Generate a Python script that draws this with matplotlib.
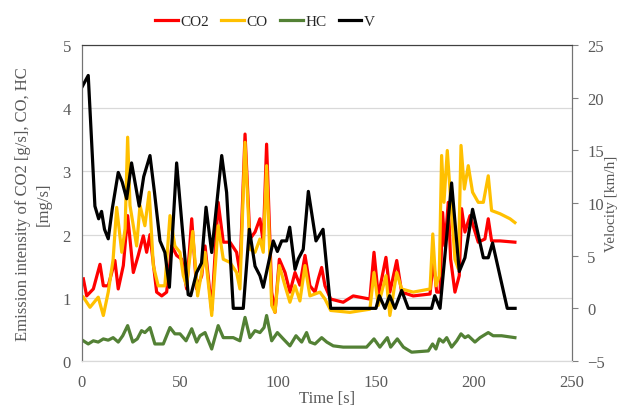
import matplotlib
matplotlib.use("Agg")
import matplotlib.pyplot as plt
import numpy as np

# emission readings (left axis)
t_co2 = [0.7, 2.4, 5.8, 9.2, 10.9, 13.4, 15.2, 16.8, 18.5, 21.1, 23.3, 26.2, 28.7, 31.3, 33.0, 34.7,
         38.1, 40.7, 43.2, 45.8, 48.3, 50.9, 53.4, 56.0, 58.5, 61.1, 62.8, 66.2, 69.5, 72.1, 75.5,
         78.9, 80.6, 83.2, 85.7, 88.3, 90.8, 92.5, 94.2, 96.8, 98.5, 100.7, 103.6, 106.1, 108.7,
         111.2, 113.8, 116.3, 118.9, 120.6, 122.3, 124.0, 126.9, 133.3, 138.4, 146.9, 149.0, 151.2,
         155.1, 157.1, 160.6, 163.1, 169.0, 177.6, 179.2, 181.0, 182.7, 184.0, 185.2, 186.9, 188.1,
         190.3, 192.5, 193.7, 195.4, 198.0, 202.2, 205.6, 207.3, 209.0, 213.3, 220.9]
co2 = [1.30, 1.03, 1.14, 1.53, 1.19, 1.19, 1.40, 1.59, 1.14, 1.51, 2.30, 1.40, 1.67, 1.98, 1.72, 2.00,
       1.09, 1.03, 1.09, 1.82, 1.67, 1.61, 1.14, 2.25, 1.14, 1.35, 1.82, 0.80, 2.51, 1.88, 1.88,
       1.72, 1.40, 3.59, 1.93, 2.04, 2.25, 1.88, 3.43, 1.09, 0.77, 1.61, 1.40, 1.09, 1.40,
       1.20, 1.67, 1.19, 1.09, 1.30, 1.48, 1.19, 0.98, 0.93, 1.03, 0.98, 1.72, 1.03,
       1.64, 1.09, 1.59, 1.09, 1.03, 1.06, 1.61, 1.09, 1.09, 2.35, 1.82, 2.51, 1.61,
       1.09, 1.35, 2.41, 2.04, 2.30, 1.88, 1.93, 2.25, 1.90, 1.90, 1.88]

t_co = [0.7, 4.1, 8.3, 10.9, 13.4, 15.9, 17.7, 20.3, 22.0, 23.3, 24.5, 26.2, 27.9, 29.6, 32.1, 34.3,
        36.4, 38.9, 42.3, 44.9, 47.4, 50.0, 51.7, 53.4, 56.5, 59.0, 62.8, 66.2, 69.5, 72.1, 75.5,
        78.9, 80.6, 83.2, 85.7, 88.3, 90.8, 92.5, 94.2, 96.8, 98.5, 100.7, 103.6, 106.1, 108.7,
        111.2, 113.8, 116.3, 121.4, 124.0, 126.9, 136.7, 146.9, 149.0, 151.2, 155.1, 157.1, 160.6,
        163.1, 169.0, 177.6, 179.0, 180.6, 182.3, 183.5, 184.7, 186.4, 188.1, 190.3, 192.0, 193.4,
        195.1, 197.1, 199.3, 202.2, 204.8, 207.3, 209.0, 213.3, 218.4, 220.9]
co = [1.01, 0.85, 1.01, 0.72, 1.09, 1.61, 2.43, 1.72, 2.09, 3.54, 2.46, 2.14, 1.82, 2.46, 2.14, 2.67,
      1.51, 1.19, 1.19, 2.30, 1.82, 1.72, 1.35, 1.19, 2.05, 1.03, 1.72, 0.72, 2.14, 1.61, 1.56,
      1.40, 1.14, 3.46, 1.77, 1.72, 1.93, 1.72, 3.09, 0.88, 0.77, 1.51, 1.19, 0.93, 1.19,
      0.95, 1.51, 1.03, 1.09, 0.98, 0.80, 0.77, 0.82, 1.40, 0.88, 1.35, 0.72, 1.40,
      1.14, 1.09, 1.14, 2.01, 1.19, 1.35, 3.25, 2.51, 3.33, 2.56, 1.61, 1.46, 3.41,
      2.72, 3.09, 2.67, 2.51, 2.51, 2.93, 2.38, 2.33, 2.25, 2.19]

t_hc = [0.7, 3.2, 5.8, 8.3, 10.9, 13.4, 15.9, 18.5, 20.8, 23.3, 25.9, 28.2, 30.4, 32.1, 34.7, 37.2,
        41.5, 44.9, 47.4, 50.0, 53.1, 56.0, 58.5, 60.2, 62.8, 66.2, 69.5, 72.1, 77.2, 80.6, 83.2,
        85.7, 88.3, 90.8, 92.9, 94.2, 96.8, 99.7, 102.7, 106.1, 109.2, 112.1, 114.6, 116.3, 118.9,
        122.3, 124.9, 128.2, 133.3, 145.2, 149.0, 152.0, 155.8, 157.5, 160.9, 164.0, 168.2, 176.7,
        178.9, 180.6, 182.3, 184.3, 186.1, 188.6, 191.2, 193.4, 195.4, 197.1, 200.5, 203.1, 207.3,
        209.8, 214.1, 220.9]
hc = [0.32, 0.27, 0.32, 0.30, 0.35, 0.33, 0.37, 0.30, 0.40, 0.56, 0.30, 0.35, 0.48, 0.45, 0.53, 0.27,
      0.27, 0.53, 0.43, 0.43, 0.32, 0.51, 0.30, 0.40, 0.45, 0.19, 0.56, 0.37, 0.37, 0.32, 0.69,
      0.37, 0.48, 0.45, 0.53, 0.72, 0.32, 0.45, 0.35, 0.24, 0.40, 0.30, 0.45, 0.30, 0.27,
      0.37, 0.30, 0.24, 0.22, 0.22, 0.35, 0.22, 0.37, 0.22, 0.35, 0.22, 0.14, 0.16,
      0.27, 0.19, 0.35, 0.30, 0.37, 0.22, 0.32, 0.43, 0.37, 0.40, 0.30, 0.37, 0.45,
      0.40, 0.40, 0.37]

# velocity (right axis)
t_v = [0, 3.2, 6.6, 8.5, 10.0, 11.5, 13.4, 15.5, 18.5, 20.5, 22.8, 25.3, 27.5, 29.2, 31.5, 34.7, 37.0,
       39.8, 42.3, 44.6, 48.3, 51.0, 54.2, 55.5, 58.5, 61.0, 63.3, 66.2, 71.3, 73.8, 77.2, 82.3,
       85.4, 88.3, 90.8, 92.5, 97.6, 99.7, 101.9, 104.4, 106.0, 108.7, 110.4, 112.9, 115.5, 119.4,
       123.0, 126.9, 150.0, 151.7, 154.6, 157.0, 159.7, 163.1, 166.5, 178.4, 180.0, 182.7, 188.6,
       192.5, 195.4, 199.3, 204.8, 207.3, 209.5, 217.0, 221.0]
v = [21.0, 22.1, 9.7, 8.5, 9.2, 7.5, 6.6, 9.5, 12.9, 12.0, 10.4, 13.8, 11.5, 9.7, 12.5, 14.5, 11.0,
     6.4, 5.3, 2.0, 13.8, 8.0, 1.3, 1.2, 3.4, 4.3, 9.6, 5.3, 14.5, 11.0, 0.0, 0.0,
     7.5, 4.0, 3.1, 2.0, 6.4, 5.4, 6.4, 6.4, 7.7, 3.7, 4.7, 5.6, 11.1, 6.4,
     7.5, 0.0, 0.0, 1.2, 0.0, 1.2, 0.0, 1.7, 0.0, 0.0, 1.2, 0.0, 11.9,
     3.5, 4.8, 9.4, 4.8, 4.8, 6.2, 0.0, 0.0]

plt.rcParams['font.family'] = ['Liberation Serif', 'DejaVu Serif']
grey = '#595959'

fig = plt.figure(figsize=(6.21, 4.10), dpi=100)
ax = fig.add_axes([0.132, 0.117, 0.789, 0.771])
ax2 = ax.twinx()

lw = 2.3
l1, = ax.plot(t_co2, co2, color='#ff0000', lw=lw, label='CO2', solid_joinstyle='round')
l2, = ax.plot(t_co, co, color='#ffc000', lw=lw, label='CO', solid_joinstyle='round')
l3, = ax.plot(t_hc, hc, color='#538135', lw=lw, label='HC', solid_joinstyle='round')
l4, = ax2.plot(t_v, v, color='black', lw=lw, label='V', solid_joinstyle='round')

ax.set_xlim(0, 250)
ax.set_ylim(0, 5)
ax2.set_ylim(-5, 25)
ax.set_xticks(range(0, 251, 50))
ax.set_yticks(range(0, 6))
ax2.set_yticks(range(-5, 26, 5))
ax.grid(axis='y', color='#d9d9d9', lw=0.9)
ax.set_axisbelow(True)

for a in (ax, ax2):
    for s in a.spines.values():
        s.set_color('#737373')
    a.spines['bottom'].set_color('#d9d9d9')
    a.spines['top'].set_color('#404040')
ax.tick_params(axis='x', length=0, labelsize=12, labelcolor=grey, pad=9)
ax.tick_params(axis='y', length=0, labelsize=12, labelcolor=grey, pad=8)
ax2.tick_params(axis='y', length=4, color='#808080', labelsize=12, labelcolor=grey, pad=7)

ax.set_xlabel('Time [s]', fontsize=12, color=grey, labelpad=0)
ax.set_ylabel('Emission intensity of CO2 [g/s], CO, HC\n[mg/s]', fontsize=12, color=grey,
              labelpad=8, linespacing=1.35)
ax2.set_ylabel('Velocity [km/h]', fontsize=11, color=grey)
ax2.yaxis.set_label_coords(1.068, 0.5)

fig.legend(handles=[l1, l2, l3, l4], loc='center', bbox_to_anchor=(265 / 621, 0.946), ncol=4,
           frameon=False, fontsize=11, handlelength=1.5, handletextpad=0.15,
           columnspacing=0.8, labelcolor='#262626')

fig.savefig('out.png', dpi=100)
